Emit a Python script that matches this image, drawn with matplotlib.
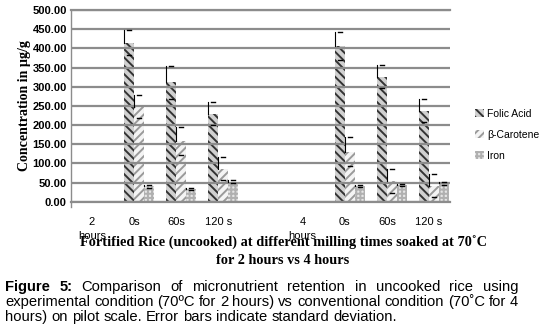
import numpy as np
import matplotlib
matplotlib.use("Agg")
import matplotlib.pyplot as plt
from matplotlib.patches import Patch

nan = np.nan

# categories on the x axis (two empty slots carry no bars)
categories = ["2\nhours", "0s", "60s", "120 s", "", "4\nhours", "0s", "60s", "120 s"]

folic_acid = [nan, 415, 311, 229, nan, nan, 406, 326, 237]
carotene = [nan, 248, 158, 86, nan, nan, 130, 54, 42]
iron = [nan, 40, 33, 52, nan, nan, 41, 43, 48]

folic_err = [nan, 33, 42, 30, nan, nan, 36, 30, 30]
carotene_err = [nan, 30, 36, 30, nan, nan, 38, 31, 30]
iron_err = [nan, 3, 3, 4, nan, nan, 3, 3, 4]

series_names = ["Folic Acid", "β-Carotene", "Iron"]
y_ticks = [0, 50, 100, 150, 200, 250, 300, 350, 400, 450, 500]

W, H = 543, 335
plt.rcParams['hatch.linewidth'] = 1.4

fig = plt.figure(figsize=(W / 100, H / 100), dpi=100)
ax = fig.add_axes([71 / W, 1 - 201.7 / H, (450 - 71) / W, (201.7 - 10) / H])

x = np.arange(len(categories))
bw = 0.2375

styles = [
    dict(facecolor="#d0d0d0", edgecolor="#333333", hatch="\\\\\\\\"),
    dict(facecolor="#f4f4f4", edgecolor="#9a9a9a", hatch="////"),
    dict(facecolor="#e6e6e6", edgecolor="#b0b0b0", hatch="++++"),
]
offsets = [-0.5 * bw, 0.5 * bw, 1.5 * bw]

for vals, errs, st, off in zip([folic_acid, carotene, iron],
                               [folic_err, carotene_err, iron_err],
                               styles, offsets):
    ax.bar(x + off, vals, width=bw, linewidth=0, zorder=1, **st)
    for xi, v, e in zip(x + off, vals, errs):
        if np.isnan(v):
            continue
        # error bar as drawn in the original: stem at the left edge, caps at centre
        ax.plot([xi - bw / 2, xi - bw / 2], [v, v + e], color="black", lw=0.8, zorder=4)
        ax.plot([xi - 0.05, xi + 0.05], [v + e, v + e], color="black", lw=1.0, zorder=4)
        ax.plot([xi - 0.05, xi + 0.05], [v - e, v - e], color="black", lw=1.0, zorder=4)

ax.set_xlim(-0.5, len(categories) - 0.5)
ax.set_ylim(0, 500)
ax.set_yticks(y_ticks)
ax.set_yticklabels([f"{t:.2f}" for t in y_ticks], fontsize=8, fontweight="bold",
                   family="Liberation Sans")
ax.set_xticks(x)
ax.set_xticklabels(categories, fontsize=8, family="Liberation Sans", linespacing=1.45)
ax.tick_params(axis="x", length=0, pad=11)
ax.tick_params(axis="y", length=0, pad=3)

ax.set_axisbelow(False)
ax.yaxis.grid(True, color="#8c8c8c", lw=1.6, zorder=3)
ax.spines["right"].set_visible(False)
for s in ["top", "bottom"]:
    ax.spines[s].set_color("#8c8c8c")
    ax.spines[s].set_linewidth(1.6)
ax.spines["left"].set_color("#8c8c8c")
ax.spines["left"].set_linewidth(1.0)
ax.plot([0, 0], [0, -0.03], transform=ax.transAxes, color="#8c8c8c", lw=1.0, clip_on=False)

ax.set_ylabel("Concentration in µg/g", fontsize=10.1, fontweight="bold",
              family="Liberation Serif", labelpad=1)

handles = [Patch(linewidth=0, **st) for st in styles]
fig.legend(handles, series_names, loc="center left", bbox_to_anchor=(466 / W, 1 - 135 / H),
           frameon=False, prop={"family": "Liberation Sans", "size": 7.5},
           handlelength=0.8, handleheight=0.8, handletextpad=0.3, labelspacing=1.05)

# chart title under the axis
fig.text(283 / W, 1 - 243 / H,
         "Fortified Rice (uncooked) at different milling times soaked at 70˚C",
         ha="center", va="center", fontsize=10.3, fontweight="bold", family="Liberation Serif")
fig.text(283 / W, 1 - 260 / H, "for 2 hours vs 4 hours",
         ha="center", va="center", fontsize=10.3, fontweight="bold", family="Liberation Serif")

# figure caption, justified like the journal layout
caption_lines = [
    ("Figure 5: Comparison of micronutrient retention in uncooked rice using", True, 287),
    ("experimental condition (70ºC for 2 hours) vs conventional condition (70˚C for 4", True, 302),
    ("hours) on pilot scale. Error bars indicate standard deviation.", False, 317),
]
renderer = fig.canvas.get_renderer()
x0, x1 = 5, 518
cap_size = 10.6
for line, justify, ypx in caption_lines:
    words = line.split(" ")
    texts = []
    for w in words:
        bold = w in ("Figure", "5:") and ypx == 287
        texts.append(fig.text(0, 1 - ypx / H, w, ha="left", va="center", fontsize=cap_size,
                              fontweight="bold" if bold else "normal",
                              family="Liberation Sans"))
    widths = [t.get_window_extent(renderer).width for t in texts]
    if justify:
        gap = (x1 - x0 - sum(widths)) / (len(words) - 1)
    else:
        gap = cap_size * 100 / 72 * 0.278
    xp = x0
    for t, wd in zip(texts, widths):
        t.set_x(xp / W)
        xp += wd + gap

fig.savefig("out.png", dpi=100)
